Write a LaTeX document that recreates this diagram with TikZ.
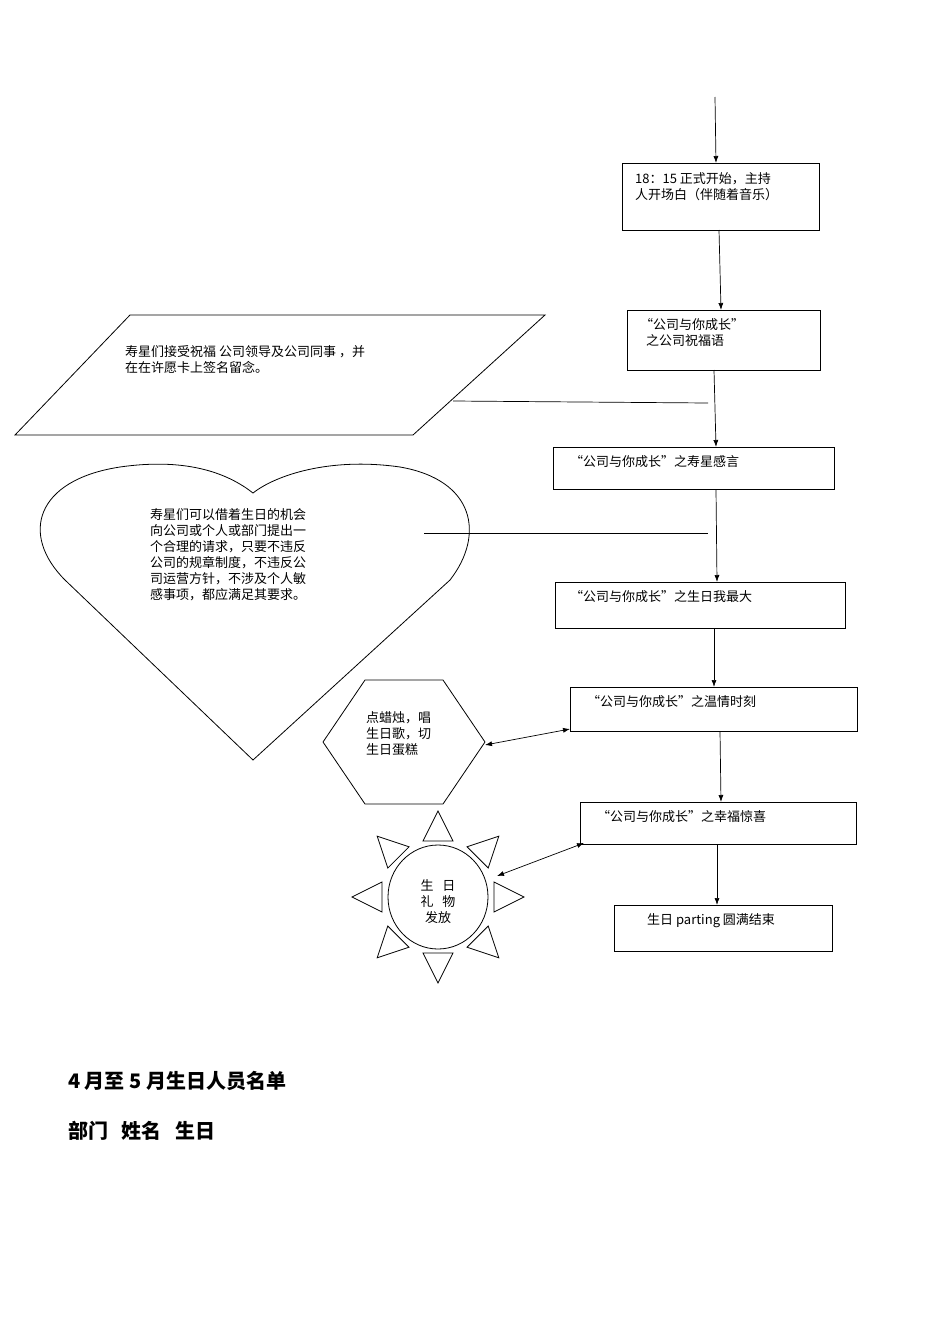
\documentclass[tikz,border=0pt]{standalone}
\usepackage{fontspec}
\setmainfont{Noto Sans CJK SC}
\usetikzlibrary{arrows.meta,calc}
\begin{document}
\begin{tikzpicture}[x=1pt,y=-1pt,
  bx/.style={draw,line width=0.8pt},
  txt/.style={font=\fontsize{13}{16}\selectfont,align=left,anchor=north west,inner sep=0pt},
  ar/.style={-{Latex[length=7pt,width=5pt]},line width=0.7pt},
  dar/.style={{Latex[length=7pt,width=5pt]}-{Latex[length=7pt,width=5pt]},line width=0.7pt},
  ln/.style={line width=0.7pt}]
\useasboundingbox (0,0) rectangle (950,1344);
% boxes
\draw[bx] (622,163) rectangle (819,230);
\node[txt] (t1) at (635,172) {18：15 正式开始，主持\\人开场白（伴随着音乐）};
\draw[bx] (627,310) rectangle (820,370);
\node[txt] (t2) at (640,318) {“公司与你成长”\\\ \ 之公司祝福语};
\draw[bx] (553,447) rectangle (834,489);
\node[txt] (t3) at (570,455) {“公司与你成长”之寿星感言};
\draw[bx] (555,582) rectangle (845,628);
\node[txt] (t4) at (570,590) {“公司与你成长”之生日我最大};
\draw[bx] (570,687) rectangle (857,731);
\node[txt] (t5) at (587,695) {“公司与你成长”之温情时刻};
\draw[bx] (580,802) rectangle (856,844);
\node[txt] (t6) at (597,810) {“公司与你成长”之幸福惊喜};
\draw[bx] (614,905) rectangle (832,951);
\node[txt] (t7) at (647,913) {生日 parting 圆满结束};
% arrows
\coordinate (s0) at (715,97);
\draw[ar] (s0) -- (716,163);
\draw[ar] (719,230) -- (721,310);
\draw[ar] (714,370) -- (716,447);
\draw[ar] (716,489) -- (717,582);
\draw[ar] (714,628) -- (714,687);
\draw[ar] (720,731) -- (721,802);
\draw[ar] (717,844) -- (717,905);
% parallelogram
\draw[bx] (130,315) -- (545,315) -- (413,435) -- (15,435) -- cycle;
\node[txt] (tp) at (125,345) {寿星们接受祝福  公司领导及公司同事 ，并\\在在许愿卡上签名留念。};
\draw[ln] (453,401) -- (708,403);
% heart
\draw[bx] (253,760) -- (65,580) .. controls (20,535) and (35,480) .. (120,467)
  .. controls (190,457) and (230,475) .. (253,493)
  .. controls (276,475) and (330,457) .. (400,467)
  .. controls (475,480) and (485,535) .. (450,580) -- cycle;
\node[txt] (th) at (150,508) {寿星们可以借着生日的机会\\向公司或个人或部门提出一\\个合理的请求，只要不违反\\公司的规章制度，不违反公\\司运营方针，不涉及个人敏\\感事项，都应满足其要求。};
\draw[ln] (424,533) -- (708,533);
% hexagon
\draw[bx] (323,742) -- (365,680) -- (443,680) -- (485,742) -- (443,804) -- (365,804) -- cycle;
\node[txt] (tx) at (366,711) {点蜡烛，唱\\生日歌，切\\生日蛋糕};
\draw[dar] (485,745) -- (570,729);
% sun
\draw[bx] (438,897) ellipse (50 and 52);
\foreach \a in {0,45,...,315}{
  \draw[bx] ($(438,897)+(\a:86)$) -- ($(438,897)+(\a:56)+(\a+90:15)$) -- ($(438,897)+(\a:56)+(\a-90:15)$) -- cycle;
}
\node[txt,align=center,anchor=center] (ts) at (438,902) {生\ \ \ 日\\礼\ \ \ 物\\发放};
\draw[dar] (497,876) -- (584,843);
% bottom texts
\node[txt,font=\fontsize{20}{24}\selectfont\bfseries,anchor=west] (b1) at (68,1081) {4 月至 5 月生日人员名单};
\node[txt,font=\fontsize{20}{24}\selectfont\bfseries,anchor=west] (b2) at (68,1131) {部门\ \ \ 姓名\ \ \ 生日};
\end{tikzpicture}
\end{document}
